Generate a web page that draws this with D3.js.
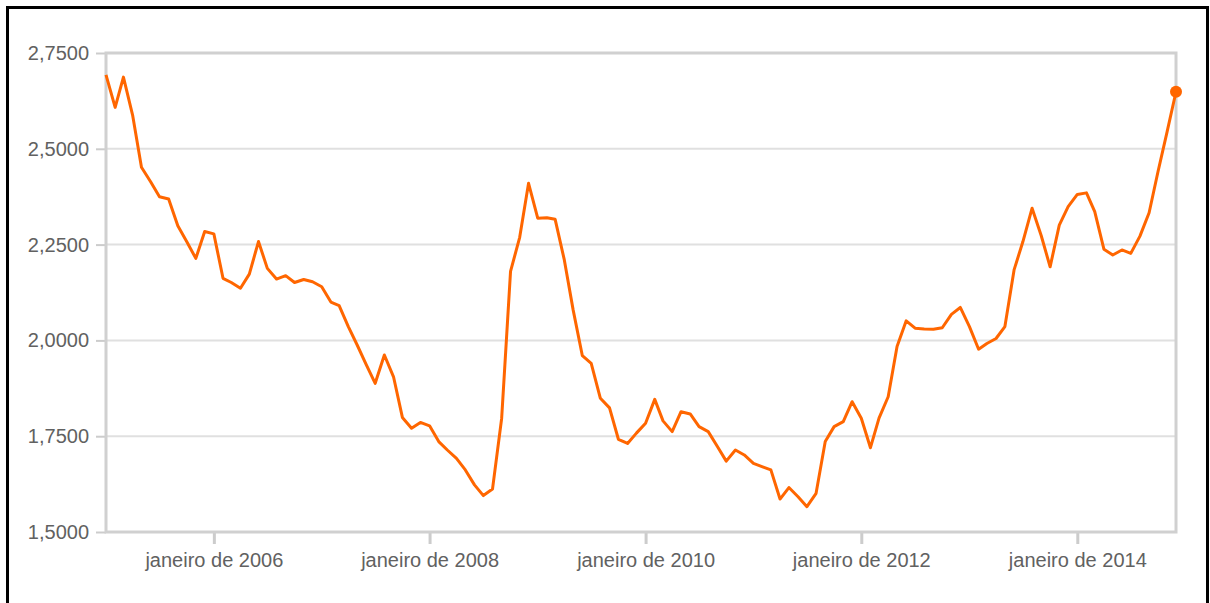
<!DOCTYPE html>
<html>
<head>
<meta charset="utf-8">
<script src="https://cdn.jsdelivr.net/npm/d3@7"></script>
<style>
  body { margin: 0; background: #fff; }
  svg { display: block; }
  .tick text { font-family: "Liberation Sans", Arial, sans-serif; font-size: 20px; fill: #616161; }
</style>
</head>
<body>
<script>
// monthly average, jan 2005 .. dez 2014
var startMonth = "2005-01";
var values = [
  2.693, 2.608, 2.687, 2.588, 2.452, 2.414, 2.375, 2.369, 2.299, 2.258, 2.214, 2.284,
  2.278, 2.162, 2.151, 2.136, 2.173, 2.258, 2.188, 2.160, 2.169, 2.151, 2.159, 2.153,
  2.140, 2.100, 2.091, 2.036, 1.988, 1.936, 1.888, 1.962, 1.905, 1.799, 1.771, 1.786,
  1.777, 1.736, 1.714, 1.692, 1.662, 1.623, 1.595, 1.612, 1.797, 2.180, 2.269, 2.410,
  2.319, 2.320, 2.316, 2.210, 2.079, 1.960, 1.940, 1.849, 1.824, 1.742, 1.731, 1.758,
  1.784, 1.846, 1.790, 1.762, 1.814, 1.808, 1.775, 1.762, 1.723, 1.685, 1.714, 1.701,
  1.679, 1.670, 1.662, 1.586, 1.616, 1.592, 1.566, 1.601, 1.736, 1.775, 1.788, 1.840,
  1.797, 1.720, 1.797, 1.853, 1.984, 2.051, 2.032, 2.030, 2.029, 2.033, 2.068, 2.086,
  2.036, 1.977, 1.992, 2.005, 2.036, 2.184, 2.258, 2.345, 2.273, 2.192, 2.301, 2.349,
  2.381, 2.385, 2.336, 2.238, 2.223, 2.236, 2.227, 2.272, 2.333, 2.440, 2.545, 2.649
];
var yTicks = [1.5, 1.75, 2.0, 2.25, 2.5, 2.75];
var xTickYears = [2006, 2008, 2010, 2012, 2014];

var width = 1210, height = 603;
var margin = {top: 53, right: 34, bottom: 71, left: 106},
    w = width - margin.left - margin.right,
    h = height - margin.top - margin.bottom;

var pt = d3.timeFormatLocale({
  dateTime: "%A, %e de %B de %Y. %X", date: "%d/%m/%Y", time: "%H:%M:%S",
  periods: ["AM", "PM"],
  days: ["domingo", "segunda", "terça", "quarta", "quinta", "sexta", "sábado"],
  shortDays: ["dom", "seg", "ter", "qua", "qui", "sex", "sáb"],
  months: ["janeiro", "fevereiro", "março", "abril", "maio", "junho", "julho", "agosto", "setembro", "outubro", "novembro", "dezembro"],
  shortMonths: ["jan", "fev", "mar", "abr", "mai", "jun", "jul", "ago", "set", "out", "nov", "dez"]
});
var num = d3.formatLocale({decimal: ",", thousands: ".", grouping: [3], currency: ["R$", ""]}).format(".4f");

var start = d3.timeParse("%Y-%m")(startMonth);
var data = values.map(function(v, i) { return {date: d3.timeMonth.offset(start, i), value: v}; });

var x = d3.scaleTime()
  .domain(d3.extent(data, function(d) { return d.date; }))
  .range([0, w]);

var y = d3.scaleLinear()
  .domain([1.5, 2.75])
  .range([h, 0]);

var svg = d3.select("body").append("svg")
  .attr("width", width)
  .attr("height", height);

// outer frame
svg.append("rect")
  .attr("x", 7.5).attr("y", 7.5)
  .attr("width", 1200).attr("height", 640)
  .attr("fill", "none")
  .attr("stroke", "#000")
  .attr("stroke-width", 3);

var g = svg.append("g")
  .attr("transform", "translate(" + margin.left + "," + margin.top + ")");

// grid
g.selectAll(".grid")
  .data(yTicks.slice(1, -1))
  .enter().append("line")
  .attr("class", "grid")
  .attr("x1", 0).attr("x2", w)
  .attr("y1", function(d) { return y(d); })
  .attr("y2", function(d) { return y(d); })
  .attr("stroke", "#e0e0e0")
  .attr("stroke-width", 2);

// y axis
var yAxis = g.append("g")
  .call(d3.axisLeft(y).tickValues(yTicks).tickFormat(num).tickSize(10).tickPadding(7));
yAxis.select(".domain").remove();
yAxis.selectAll(".tick line").attr("stroke", "#ccc").attr("stroke-width", 2);

// x axis
var xAxis = g.append("g")
  .attr("transform", "translate(0," + h + ")")
  .call(d3.axisBottom(x)
    .tickValues(xTickYears.map(function(yr) { return new Date(yr, 0, 1); }))
    .tickFormat(pt.format("%B de %Y"))
    .tickSize(12).tickPadding(9));
xAxis.select(".domain").remove();
xAxis.selectAll(".tick line").attr("stroke", "#ccc").attr("stroke-width", 3);

// plot frame
g.append("rect")
  .attr("width", w).attr("height", h)
  .attr("fill", "none")
  .attr("stroke", "#d0d0d0")
  .attr("stroke-width", 3);

var line = d3.line()
  .x(function(d) { return x(d.date); })
  .y(function(d) { return y(d.value); });

g.append("path")
  .datum(data)
  .attr("fill", "none")
  .attr("stroke", "#ff6600")
  .attr("stroke-width", 3)
  .attr("stroke-linejoin", "round")
  .attr("d", line);

var last = data[data.length - 1];
g.append("circle")
  .attr("cx", x(last.date))
  .attr("cy", y(last.value))
  .attr("r", 6)
  .attr("fill", "#ff6600");
</script>
</body>
</html>
